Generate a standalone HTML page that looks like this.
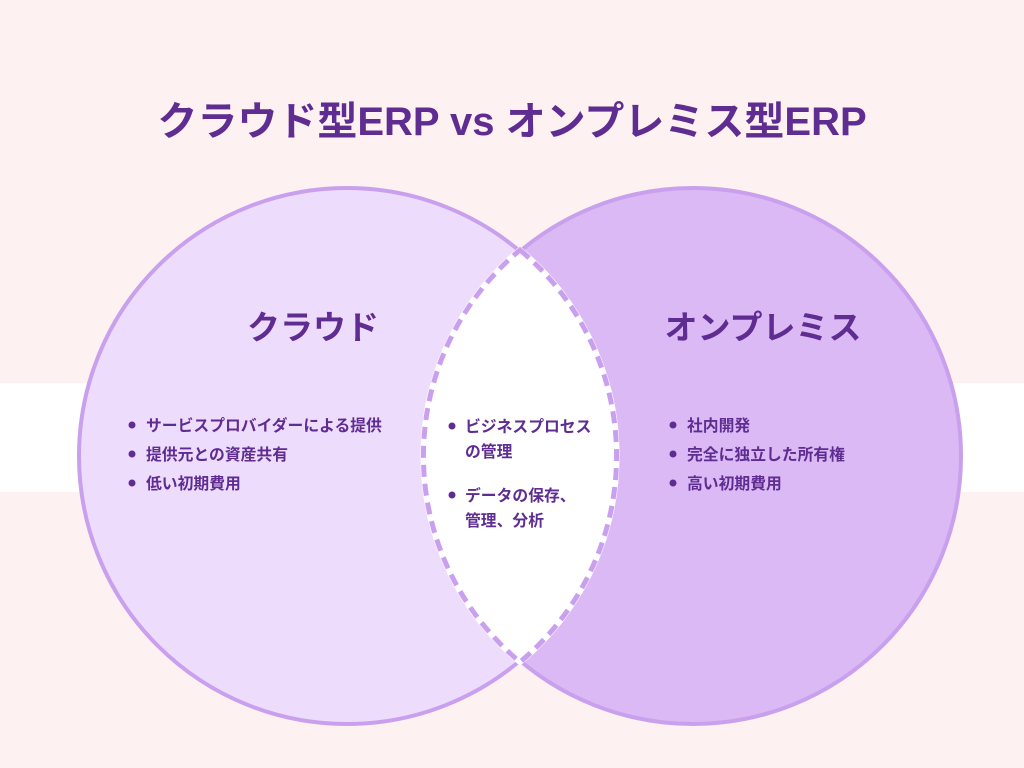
<!DOCTYPE html>
<html><head><meta charset="utf-8"><style>
body{margin:0;width:1024px;height:768px;overflow:hidden;background:#fdf1f1;font-family:"Liberation Sans","Noto Sans CJK JP",sans-serif;}
svg{position:absolute;left:0;top:0}
text{font-family:"Liberation Sans","Noto Sans CJK JP",sans-serif;font-weight:bold;fill:#5f2d91}
</style></head><body>
<svg width="1024" height="768" viewBox="0 0 1024 768">
<rect x="0" y="0" width="1024" height="768" fill="#fdf1f1"/>
<rect x="0" y="383" width="1024" height="109" fill="#ffffff"/>
<text x="512" y="135" font-size="40" text-anchor="middle">クラウド型ERP vs オンプレミス型ERP</text>
<circle cx="347" cy="456" r="268" fill="#eedcfd" stroke="#c9a0ee" stroke-width="4"/>
<circle cx="693" cy="456" r="268" fill="#dab9f5" stroke="#c9a0ee" stroke-width="4"/>
<path d="M520 250 A268 268 0 0 1 520 662 A268 268 0 0 1 520 250 Z" fill="#ffffff" stroke="#ffffff" stroke-width="6"/>
<path d="M520 250 A268 268 0 0 1 520 662 A268 268 0 0 1 520 250 Z" fill="none" stroke="#c9a0ee" stroke-width="5" stroke-dasharray="12 7"/>
<text x="313" y="339" font-size="33" text-anchor="middle">クラウド</text>
<text x="763" y="339" font-size="33" text-anchor="middle">オンプレミス</text>
<g font-size="15.8">
<circle cx="132" cy="425" r="3.5" fill="#5f2d91"/><text x="146" y="431">サービスプロバイダーによる提供</text>
<circle cx="132" cy="454" r="3.5" fill="#5f2d91"/><text x="146" y="460">提供元との資産共有</text>
<circle cx="132" cy="483" r="3.5" fill="#5f2d91"/><text x="146" y="489">低い初期費用</text>
<circle cx="452" cy="426" r="3.5" fill="#5f2d91"/><text x="465" y="432">ビジネスプロセス</text>
<text x="465" y="457">の管理</text>
<circle cx="452" cy="495" r="3.5" fill="#5f2d91"/><text x="465" y="501">データの保存、</text>
<text x="465" y="526">管理、分析</text>
<circle cx="673" cy="425" r="3.5" fill="#5f2d91"/><text x="687" y="431">社内開発</text>
<circle cx="673" cy="454" r="3.5" fill="#5f2d91"/><text x="687" y="460">完全に独立した所有権</text>
<circle cx="673" cy="483" r="3.5" fill="#5f2d91"/><text x="687" y="489">高い初期費用</text>
</g>
</svg>
</body></html>
